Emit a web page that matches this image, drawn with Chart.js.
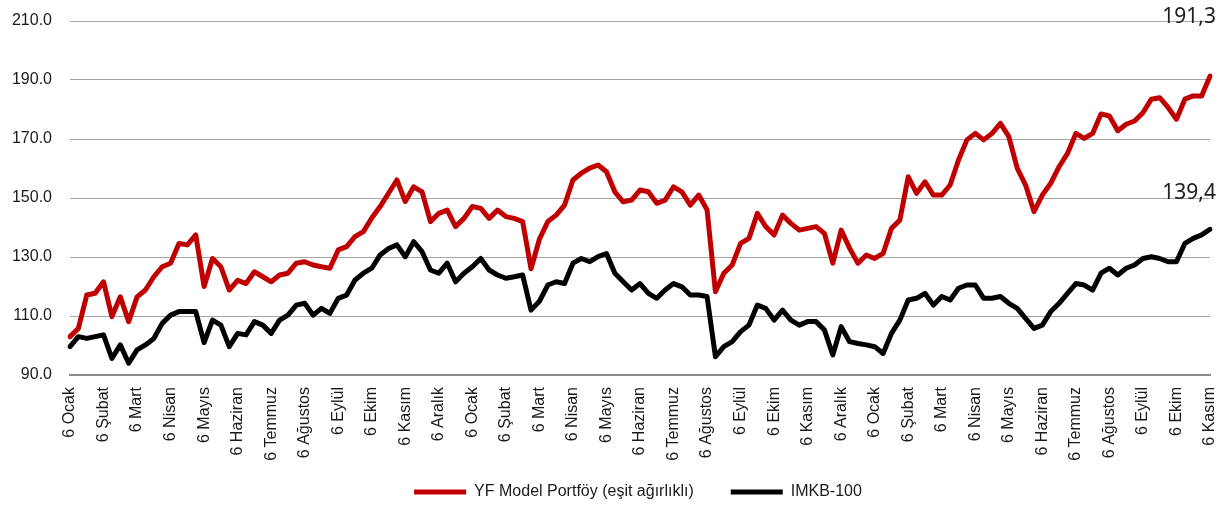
<!DOCTYPE html>
<html lang="tr">
<head>
<meta charset="UTF-8">
<title>YF Model Portföy vs IMKB-100</title>
<script src="https://cdn.jsdelivr.net/npm/chart.js@4.4.0/dist/chart.umd.min.js"></script>
<style>
  body { margin: 0; background: #fff; }
  .chart-wrap { width: 1225px; height: 510px; }
</style>
</head>
<body>
<div class="chart-wrap"><canvas id="perfChart" width="1225" height="510"></canvas></div>
<script>
// month tick labels (one every 4 points, roughly weekly data)
const months = [
  '6 Ocak', '6 Şubat', '6 Mart', '6 Nisan', '6 Mayıs', '6 Haziran', '6 Temmuz', '6 Ağustos',
  '6 Eylül', '6 Ekim', '6 Kasım', '6 Aralık',
  '6 Ocak', '6 Şubat', '6 Mart', '6 Nisan', '6 Mayıs', '6 Haziran', '6 Temmuz', '6 Ağustos',
  '6 Eylül', '6 Ekim', '6 Kasım', '6 Aralık',
  '6 Ocak', '6 Şubat', '6 Mart', '6 Nisan', '6 Mayıs', '6 Haziran', '6 Temmuz', '6 Ağustos',
  '6 Eylül', '6 Ekim', '6 Kasım'
];
const pointsPerMonth = 4;

// YF Model Portföy (eşit ağırlıklı)
const portfolio = [
  103.0, 105.8, 117.1, 117.7, 121.6, 109.8, 116.5, 108.1, 116.5, 118.8,
  123.3, 126.7, 127.9, 134.6, 134.1, 137.5, 120.0, 129.5, 126.7, 118.8,
  122.1, 121.0, 125.0, 123.3, 121.6, 123.9, 124.5, 127.9, 128.4, 127.3,
  126.7, 126.2, 132.4, 133.5, 136.9, 138.6, 143.2, 147.1, 151.6, 156.1,
  148.8, 153.8, 152.1, 142.0, 144.8, 145.9, 140.3, 143.1, 147.1, 146.5,
  143.1, 145.9, 143.7, 143.1, 142.0, 126.0, 136.0, 142.0, 144.2, 147.6,
  156.1, 158.4, 160.1, 161.2, 158.9, 152.1, 148.7, 149.3, 152.7, 152.1,
  148.2, 149.3, 153.8, 152.1, 147.6, 151.0, 146.0, 118.2, 124.5, 127.3,
  134.6, 136.3, 144.8, 140.3, 137.5, 144.2, 141.4, 139.1, 139.7, 140.3,
  138.0, 127.9, 139.1, 133.0, 127.9, 130.7, 129.5, 131.2, 139.7, 142.5,
  157.2, 151.6, 155.5, 151.0, 151.0, 154.4, 162.9, 169.7, 171.9, 169.7,
  171.9, 175.3, 170.8, 160.1, 154.4, 145.4, 151.0, 155.0, 160.6, 165.1,
  171.9, 170.2, 171.9, 178.5, 177.8, 172.8, 175.0, 176.1, 178.9, 183.5,
  184.0, 180.7, 176.7, 183.5, 184.6, 184.6, 191.3
];

// IMKB-100
const imkb = [
  99.6, 103.0, 102.4, 103.0, 103.6, 95.6, 100.2, 94.0, 98.5, 100.2,
  102.4, 107.5, 110.3, 111.5, 111.5, 111.5, 101.0, 108.6, 106.9, 99.6,
  104.1, 103.6, 108.1, 106.9, 104.1, 108.6, 110.3, 113.7, 114.3, 110.3,
  112.6, 110.9, 116.0, 117.1, 122.2, 124.5, 126.2, 130.7, 132.9, 134.1,
  130.1, 135.2, 131.8, 125.6, 124.5, 127.9, 121.6, 124.5, 126.7, 129.5,
  125.6, 123.9, 122.8, 123.3, 123.9, 112.0, 115.0, 120.5, 121.6, 121.0,
  127.9, 129.5, 128.4, 130.1, 131.2, 124.5, 121.6, 118.8, 121.0, 117.7,
  116.0, 118.8, 121.0, 119.9, 117.1, 117.1, 116.6, 96.2, 99.6, 101.3,
  104.7, 106.9, 113.7, 112.6, 108.6, 112.0, 108.6, 106.9, 108.1, 108.1,
  105.3, 96.8, 106.4, 101.3, 100.7, 100.2, 99.6, 97.3, 104.1, 108.6,
  115.4, 116.0, 117.7, 113.7, 116.6, 115.4, 119.4, 120.5, 120.5, 116.0,
  116.0, 116.6, 114.3, 112.6, 109.2, 105.8, 106.9, 111.5, 114.3, 117.7,
  121.0, 120.5, 118.8, 124.5, 126.2, 123.9, 126.2, 127.3, 129.5, 130.1,
  129.5, 128.4, 128.4, 134.6, 136.3, 137.5, 139.4
];

const labels = portfolio.map((v, i) => (i % pointsPerMonth === 0 ? months[i / pointsPerMonth] : ''));

const FONT = '"Liberation Sans", Arial, sans-serif';

// drop the automatic label padding so the plot area edges are set by layout.padding
function noScalePadding(s) {
    s.paddingLeft = 0;
    s.paddingRight = 0;
    s.paddingTop = 0;
    s.paddingBottom = 0;
}

// the legend sits a little right of centre in the original
const legendShift = {
    id: 'legendShift',
    afterLayout(chart) {
        if (chart.legend) {
            chart.legend.left += 33;
            chart.legend.right += 33;
        }
    }
};

// last-value labels drawn above the line ends
const endLabels = {
    id: 'endLabels',
    afterDatasetsDraw(chart) {
        const ctx = chart.ctx;
        const lift = [59, 36];
        chart.data.datasets.forEach((ds, i) => {
            const meta = chart.getDatasetMeta(i);
            const last = meta.data[meta.data.length - 1];
            const txt = ds.data[ds.data.length - 1].toFixed(1).replace('.', ',');
            ctx.save();
            ctx.font = '21px "Noto Sans", sans-serif';
            ctx.fillStyle = '#222';
            ctx.textAlign = 'right';
            ctx.textBaseline = 'middle';
            ctx.fillText(txt, chart.chartArea.right + 6, last.y - lift[i]);
            ctx.restore();
        });
    }
};

const ctx = document.getElementById('perfChart').getContext('2d');
new Chart(ctx, {
    type: 'line',
    data: {
        labels: labels,
        datasets: [
            {
                label: 'YF Model Portföy (eşit ağırlıklı)',
                data: portfolio,
                borderColor: '#c00000',
                backgroundColor: '#c00000',
                borderWidth: 5,
                borderCapStyle: 'round',
                borderJoinStyle: 'round',
                pointRadius: 0,
                tension: 0
            },
            {
                label: 'IMKB-100',
                data: imkb,
                borderColor: '#000000',
                backgroundColor: '#000000',
                borderWidth: 5,
                borderCapStyle: 'round',
                borderJoinStyle: 'round',
                pointRadius: 0,
                tension: 0
            }
        ]
    },
    options: {
        responsive: false,
        devicePixelRatio: 1,
        animation: false,
        layout: { padding: { top: 21, right: 15, left: 0, bottom: 0 } },
        scales: {
            x: {
                grid: { display: false, drawTicks: false },
                border: { display: true, color: '#8c8c8c', width: 2 },
                ticks: {
                    autoSkip: false,
                    minRotation: 90,
                    maxRotation: 90,
                    padding: 12,
                    color: '#1a1a1a',
                    font: { family: FONT, size: 16 }
                },
                afterFit: (s) => { s.height = 104; noScalePadding(s); }
            },
            y: {
                min: 90,
                max: 210,
                grid: { color: '#a6a6a6', lineWidth: 1, drawTicks: false },
                border: { display: false },
                ticks: {
                    stepSize: 20,
                    padding: 18,
                    color: '#1a1a1a',
                    font: { family: FONT, size: 16 },
                    callback: (v) => Number(v).toFixed(1)
                },
                afterFit: (s) => { s.width = 70; noScalePadding(s); }
            }
        },
        plugins: {
            legend: {
                position: 'bottom',
                labels: {
                    usePointStyle: true,
                    pointStyle: 'line',
                    pointStyleWidth: 52,
                    padding: 5,
                    color: '#1a1a1a',
                    font: { family: FONT, size: 16 },
                    generateLabels: (chart) => {
                        const items = Chart.defaults.plugins.legend.labels.generateLabels(chart);
                        items.forEach((it, i) => {
                            it.lineWidth = 5;
                            if (i < items.length - 1) it.text += '\u2003\u2003';
                        });
                        return items;
                    }
                }
            },
            tooltip: { enabled: false }
        }
    },
    plugins: [legendShift, endLabels]
});
</script>
</body>
</html>
